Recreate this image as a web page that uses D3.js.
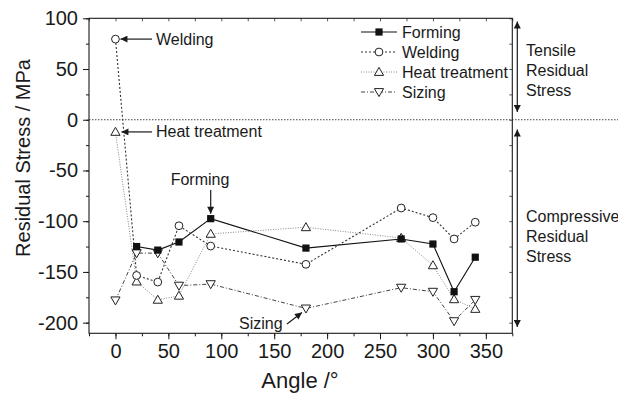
<!DOCTYPE html>
<html><head><meta charset="utf-8">
<script src="https://cdnjs.cloudflare.com/ajax/libs/d3/7.8.5/d3.min.js"></script>
<style>body{margin:0;background:#fff}svg{display:block;font-family:"Liberation Sans",Arial,sans-serif}</style>
</head><body><svg id="c" width="618" height="394"></svg>
<script>
const angles = [0, 20, 40, 60, 90, 180, 270, 300, 320, 340];
const formingAngles = [20, 40, 60, 90, 180, 270, 300, 320, 340];
const forming = [-125, -128.5, -120.5, -97.5, -126.5, -117.5, -122.5, -169.5, -135.5];
const welding = [79.5, -153.5, -160, -104.5, -124.5, -142.5, -87, -96.5, -117.5, -101];
const heatTreatment = [-12, -159.5, -177.5, -173.5, -112.5, -106, -116.5, -143.5, -177, -186.5];
const sizing = [-178, -131.5, -131.5, -163.5, -162, -186, -165.5, -169.5, -198.5, -177.5];
const xTicks = [0, 50, 100, 150, 200, 250, 300, 350];
const yTicks = [100, 50, 0, -50, -100, -150, -200];
const seriesNames = ["Forming", "Welding", "Heat treatment", "Sizing"];

const svg = d3.select("#c");
const x = d3.scaleLinear().domain([-25, 375]).range([89, 512.3]);
const y = d3.scaleLinear().domain([-210.5, 100]).range([333.3, 18.3]);
const ink = "#1a1a1a";
const fmt = d => String(d);

svg.append("defs").append("marker").attr("id","ah").attr("viewBox","0 0 10 10")
  .attr("refX",10).attr("refY",5).attr("markerWidth",9).attr("markerHeight",7)
  .attr("markerUnits","userSpaceOnUse").attr("orient","auto-start-reverse")
  .append("path").attr("d","M0,0L10,5L0,10z").attr("fill",ink);

// zero line
svg.append("line").attr("x1",89).attr("x2",618).attr("y1",y(0)).attr("y2",y(0))
  .attr("stroke","#444").attr("stroke-width",1).attr("stroke-dasharray","1.5,1.5");

// axes
const minorX = d3.range(-25, 376, 25);
const minorY = d3.range(-200, 101, 25);
const gx = svg.append("g").attr("transform",`translate(0,${y.range()[0]})`)
  .call(d3.axisBottom(x).tickValues(minorX).tickSize(3).tickFormat(""));
gx.selectAll(".tick line").attr("stroke",ink);
gx.select(".domain").remove();
const gx2 = svg.append("g").attr("transform",`translate(0,${y.range()[0]})`)
  .call(d3.axisBottom(x).tickValues(xTicks).tickSize(6).tickPadding(5).tickFormat(fmt));
gx2.select(".domain").remove();
gx2.selectAll(".tick line").attr("stroke",ink);
gx2.selectAll("text").attr("font-size",20).attr("fill",ink).attr("font-family","Liberation Sans, Arial");

const gy = svg.append("g").attr("transform",`translate(89,0)`)
  .call(d3.axisLeft(y).tickValues(minorY).tickSize(3).tickFormat(""));
gy.select(".domain").remove();
gy.selectAll(".tick line").attr("stroke",ink);
const gy2 = svg.append("g").attr("transform",`translate(89,0)`)
  .call(d3.axisLeft(y).tickValues(yTicks).tickSize(6).tickPadding(5).tickFormat(fmt));
gy2.select(".domain").remove();
gy2.selectAll(".tick line").attr("stroke",ink);
gy2.selectAll("text").attr("font-size",20).attr("fill",ink).attr("font-family","Liberation Sans, Arial");

// mirror ticks inward on top and right
const gt = svg.append("g").attr("transform",`translate(0,${y.range()[1]})`)
  .call(d3.axisBottom(x).tickValues(minorX).tickSize(3).tickFormat(""));
gt.select(".domain").remove(); gt.selectAll(".tick line").attr("stroke","#555");
const gr = svg.append("g").attr("transform",`translate(${x.range()[1]},0)`)
  .call(d3.axisLeft(y).tickValues(minorY).tickSize(3).tickFormat(""));
gr.select(".domain").remove(); gr.selectAll(".tick line").attr("stroke","#555");

// frame
svg.append("rect").attr("x",89).attr("y",y.range()[1]).attr("width",x.range()[1]-89)
  .attr("height",y.range()[0]-y.range()[1]).attr("fill","none").attr("stroke",ink).attr("stroke-width",1.1);

// axis titles
svg.append("text").attr("x",300).attr("y",388).attr("text-anchor","middle")
  .attr("font-size",22).attr("fill",ink).text("Angle /°");
svg.append("text").attr("transform","translate(30,158) rotate(-90)").attr("text-anchor","middle")
  .attr("font-size",20).attr("fill",ink).text("Residual Stress / MPa");

// series
const styles = [
  {name:seriesNames[0], xs:formingAngles, ys:forming, dash:null, color:"#111", width:1.1, sym:"square"},
  {name:seriesNames[1], xs:angles, ys:welding, dash:"2,2", color:"#333", width:1.1, sym:"circle"},
  {name:seriesNames[2], xs:angles, ys:heatTreatment, dash:"1,1.5", color:"#888", width:1, sym:"up"},
  {name:seriesNames[3], xs:angles, ys:sizing, dash:"4,2,1,2", color:"#444", width:1, sym:"down"}
];
function drawSym(g, sym, cx, cy){
  if(sym==="square") g.append("rect").attr("x",cx-3.6).attr("y",cy-3.6).attr("width",7.2).attr("height",7.2).attr("fill","#111");
  else if(sym==="circle") g.append("circle").attr("cx",cx).attr("cy",cy).attr("r",3.9).attr("fill","#fff").attr("stroke","#222").attr("stroke-width",1);
  else if(sym==="up") g.append("path").attr("d",`M${cx},${cy-4.6}L${cx+4.6},${cy+3.4}L${cx-4.6},${cy+3.4}Z`).attr("fill","#fff").attr("stroke","#222").attr("stroke-width",1);
  else g.append("path").attr("d",`M${cx},${cy+4.6}L${cx+4.6},${cy-3.4}L${cx-4.6},${cy-3.4}Z`).attr("fill","#fff").attr("stroke","#222").attr("stroke-width",1);
}
const line = d3.line().x(d=>x(d[0])).y(d=>y(d[1]));
styles.forEach(s=>{
  const pts = s.xs.map((a,i)=>[a, s.ys[i]]);
  svg.append("path").attr("d",line(pts)).attr("fill","none").attr("stroke",s.color)
    .attr("stroke-width",s.width).attr("stroke-dasharray",s.dash);
});
const mg = svg.append("g");
[3,2,1,0].forEach(k=>{const s=styles[k]; s.xs.forEach((a,i)=>drawSym(mg,s.sym,x(a),y(s.ys[i])));});

// legend
const lg = svg.append("g");
styles.forEach((s,i)=>{
  const ly = 32 + i*20;
  lg.append("line").attr("x1",361).attr("x2",397).attr("y1",ly).attr("y2",ly)
    .attr("stroke",s.color).attr("stroke-width",s.width).attr("stroke-dasharray",s.dash);
  drawSym(lg, s.sym, 379, ly);
  lg.append("text").attr("x",402).attr("y",ly+5.5).attr("font-size",16).attr("fill",ink).text(s.name);
});

// annotations
function arrow(x1,y1,x2,y2,both){
  const l = svg.append("line").attr("x1",x1).attr("y1",y1).attr("x2",x2).attr("y2",y2)
    .attr("stroke",ink).attr("stroke-width",1.2).attr("marker-end","url(#ah)");
  if(both) l.attr("marker-start","url(#ah)");
}
arrow(152, y(welding[0]), x(0)+5, y(welding[0]));
svg.append("text").attr("x",156).attr("y",y(welding[0])+5.5).attr("font-size",16).attr("fill",ink).text("Welding");
arrow(152, y(heatTreatment[0]), x(0)+6, y(heatTreatment[0]));
svg.append("text").attr("x",156).attr("y",y(heatTreatment[0])+5.5).attr("font-size",16).attr("fill",ink).text("Heat treatment");
arrow(x(90), 190, x(90), y(forming[3])-5);
svg.append("text").attr("x",200).attr("y",185).attr("text-anchor","middle").attr("font-size",16).attr("fill",ink).text("Forming");
arrow(287, 324, x(180)-4, y(sizing[5])+4);
svg.append("text").attr("x",239).attr("y",329).attr("font-size",16).attr("fill",ink).text("Sizing");

arrow(517.3, 21.5, 517.3, 112, true);
arrow(517.3, 129.5, 517.3, 327, true);
["Tensile","Residual","Stress"].forEach((t,i)=>svg.append("text").attr("x",526).attr("y",56+i*20).attr("font-size",16).attr("fill",ink).text(t));
["Compressive","Residual","Stress"].forEach((t,i)=>svg.append("text").attr("x",526).attr("y",222+i*20).attr("font-size",16).attr("fill",ink).text(t));
</script></body></html>
